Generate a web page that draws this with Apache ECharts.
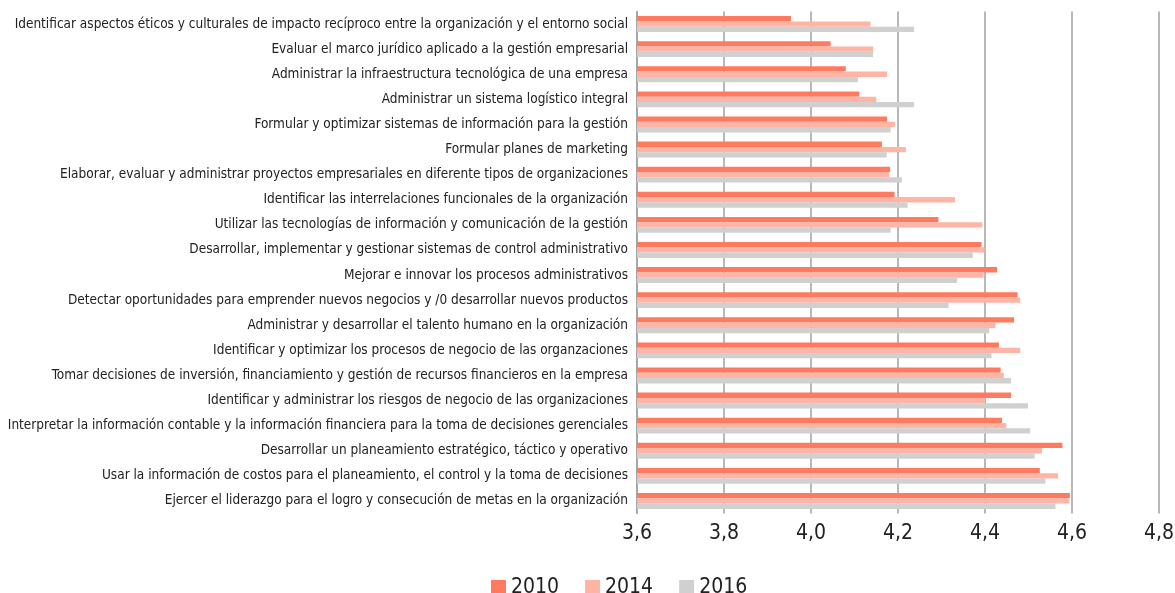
<!DOCTYPE html>
<html>
<head>
<meta charset="utf-8">
<script src="https://cdn.jsdelivr.net/npm/echarts@6/dist/echarts.min.js"></script>
<style>
html,body{margin:0;padding:0;background:#fff;}
#chart{width:1175px;height:593px;}
</style>
</head>
<body>
<div id="chart"></div>
<script>
const categories = [
  "Identificar aspectos éticos y culturales de impacto recíproco entre la organización y el entorno social",
  "Evaluar el marco jurídico aplicado a la gestión empresarial",
  "Administrar la infraestructura tecnológica de una empresa",
  "Administrar un sistema logístico integral",
  "Formular y optimizar sistemas de información para la gestión",
  "Formular planes de marketing",
  "Elaborar, evaluar y administrar proyectos empresariales en diferente tipos de organizaciones",
  "Identificar las interrelaciones funcionales de la organización",
  "Utilizar las tecnologías de información y comunicación de la gestión",
  "Desarrollar, implementar y gestionar sistemas de control administrativo",
  "Mejorar e innovar los procesos administrativos",
  "Detectar oportunidades para emprender nuevos negocios y /0 desarrollar nuevos productos",
  "Administrar y desarrollar el talento humano en la organización",
  "Identificar y optimizar los procesos de negocio de las organzaciones",
  "Tomar decisiones de inversión, financiamiento y gestión de recursos financieros en la empresa",
  "Identificar y administrar los riesgos de negocio de las organizaciones",
  "Interpretar la información contable y la información financiera para la toma de decisiones gerenciales",
  "Desarrollar un planeamiento estratégico, táctico y operativo",
  "Usar la información de costos para el planeamiento, el control y la toma de decisiones",
  "Ejercer el liderazgo para el logro y consecución de metas en la organización"
];
const seriesNames = ["2010", "2014", "2016"];
const values2010 = [3.954, 4.045, 4.080, 4.111, 4.175, 4.163, 4.182, 4.192, 4.293, 4.392, 4.428, 4.475, 4.467, 4.432, 4.436, 4.460, 4.439, 4.578, 4.526, 4.595];
const values2014 = [4.137, 4.143, 4.175, 4.150, 4.193, 4.218, 4.180, 4.331, 4.394, 4.399, 4.397, 4.481, 4.424, 4.481, 4.443, 4.400, 4.449, 4.531, 4.568, 4.594];
const values2016 = [4.237, 4.143, 4.108, 4.237, 4.183, 4.174, 4.209, 4.222, 4.183, 4.372, 4.336, 4.316, 4.410, 4.415, 4.460, 4.499, 4.504, 4.514, 4.539, 4.562];
const xTicks = [3.6, 3.8, 4.0, 4.2, 4.4, 4.6, 4.8];

const colors = ["#FF7A5E", "#FFB5A6", "#D0D0D0"];
const FONT = "'Liberation Sans Narrow', 'DejaVu Sans Condensed', sans-serif";

const chart = echarts.init(document.getElementById('chart'), null, {renderer: 'canvas'});
const dataSets = [values2010, values2014, values2016];

chart.setOption({
  animation: false,
  color: colors,
  textStyle: {fontFamily: FONT},
  grid: {left: 637, right: 16, top: 11.5, bottom: 79.5, containLabel: false, outerBoundsMode: 'none'},
  legend: {
    data: seriesNames,
    left: 486, top: 572,
    itemWidth: 15, itemHeight: 15, itemGap: 26,
    icon: 'rect',
    textStyle: {fontFamily: FONT, fontSize: 21, color: '#222'}
  },
  xAxis: {
    type: 'value',
    min: xTicks[0], max: xTicks[xTicks.length - 1], interval: 0.2,
    axisLine: {show: false},
    axisTick: {show: false},
    splitLine: {show: true, lineStyle: {color: '#A0A0A0', width: 1.5}},
    axisLabel: {
      fontFamily: FONT, fontSize: 21, color: '#222', margin: 10,
      formatter: v => v.toFixed(1).replace('.', ',')
    }
  },
  yAxis: {
    type: 'category',
    data: categories,
    inverse: true,
    axisLine: {show: true, lineStyle: {color: '#A0A0A0', width: 1.5}},
    axisTick: {show: false},
    axisLabel: {fontFamily: FONT, fontSize: 13.5, color: '#222', margin: 9, interval: 0}
  },
  series: seriesNames.map((n, i) => ({
    name: n,
    type: 'bar',
    data: dataSets[i],
    barWidth: 5.3,
    barGap: '0%',
    itemStyle: {color: colors[i]}
  }))
});
</script>
</body>
</html>
